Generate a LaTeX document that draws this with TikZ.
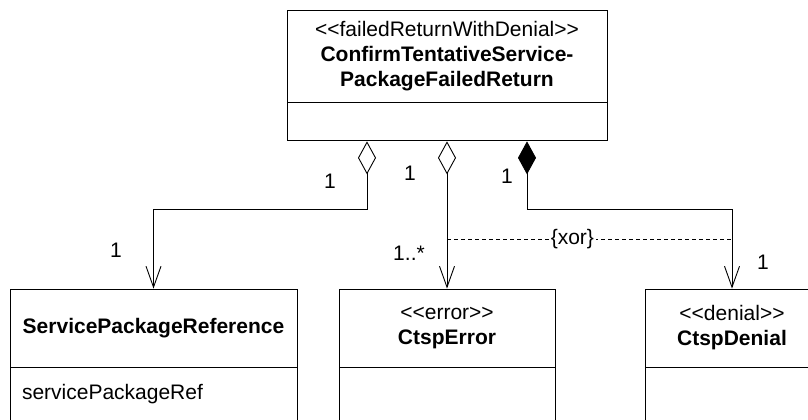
\documentclass[tikz,border=0pt]{standalone}
\usepackage{fontspec}
\setmainfont{Liberation Sans}
\usepackage{tikz}
\usetikzlibrary{arrows.meta,positioning}
\newcommand{\umltext}{\fontsize{21}{25}\selectfont}
\newcommand{\stereo}[1]{<\kern0pt<#1>\kern0pt>}

\begin{document}
\begin{tikzpicture}[x=1pt,y=-1pt,line width=0.9pt,
  cls/.style={draw,line width=0.9pt,inner sep=0pt,align=center,font=\umltext},
  mult/.style={inner sep=0pt,font=\umltext},
  agg/.style={{Diamond[open,length=33pt,width=18pt]}-{Straight Barb[length=21pt,width=15pt]}},
  comp/.style={{Diamond[length=33pt,width=18pt]}-{Straight Barb[length=21pt,width=15pt]}}]
\useasboundingbox (0,0) rectangle (808,420);
\clip (0,0) rectangle (808,420);
\node[cls,minimum width=320pt,minimum height=92pt] (cnf) at (447,56) {\stereo{failedReturnWithDenial}\\\textbf{ConfirmTentativeService-}\\\textbf{PackageFailedReturn}};
\node[cls,minimum width=320pt,minimum height=38pt,anchor=north] (cnfattr) at (cnf.south) {};
\node[cls,minimum width=287pt,minimum height=78pt] (spr) at (153.5,328) {\textbf{ServicePackageReference}};
\node[cls,minimum width=287pt,anchor=north,inner xsep=12pt,text width=263pt,align=left,text height=32pt,text depth=38pt] (sprattr) at (spr.south) {servicePackageRef};
\node[cls,minimum width=216pt,minimum height=78pt] (err) at (447,328) {\stereo{error}\\\textbf{CtspError}};
\node[cls,minimum width=216pt,minimum height=70pt,anchor=north] (errattr) at (err.south) {};
\node[cls,minimum width=174pt,minimum height=78pt] (den) at (732,328) {\stereo{denial}\\\textbf{CtspDenial}};
\node[cls,minimum width=174pt,minimum height=70pt,anchor=north] (denattr) at (den.south) {};
\draw[agg] ([xshift=-80pt]cnfattr.south) -- ++(0,68) -| (spr.north);
\draw[agg] (cnfattr.south) -- (err.north);
\draw[comp] ([xshift=80pt]cnfattr.south) -- ++(0,68) -| (den.north);
\coordinate (xorline) at (0,239);
\draw[dash pattern=on 4pt off 3pt] (err.north |- xorline) -- node[mult,fill=white,inner sep=2pt,pos=0.44] (xor) {\{xor\}} (den.north |- xorline);
\node[mult] (m1) at (330,181) {1};
\node[mult] (m2) at (410,173) {1};
\node[mult] (m3) at (507,176) {1};
\node[mult] (m4) at (116,250) {1};
\node[mult] (m5) at (409,253) {1..*};
\node[mult] (m6) at (763,262) {1};
\end{tikzpicture}
\end{document}
